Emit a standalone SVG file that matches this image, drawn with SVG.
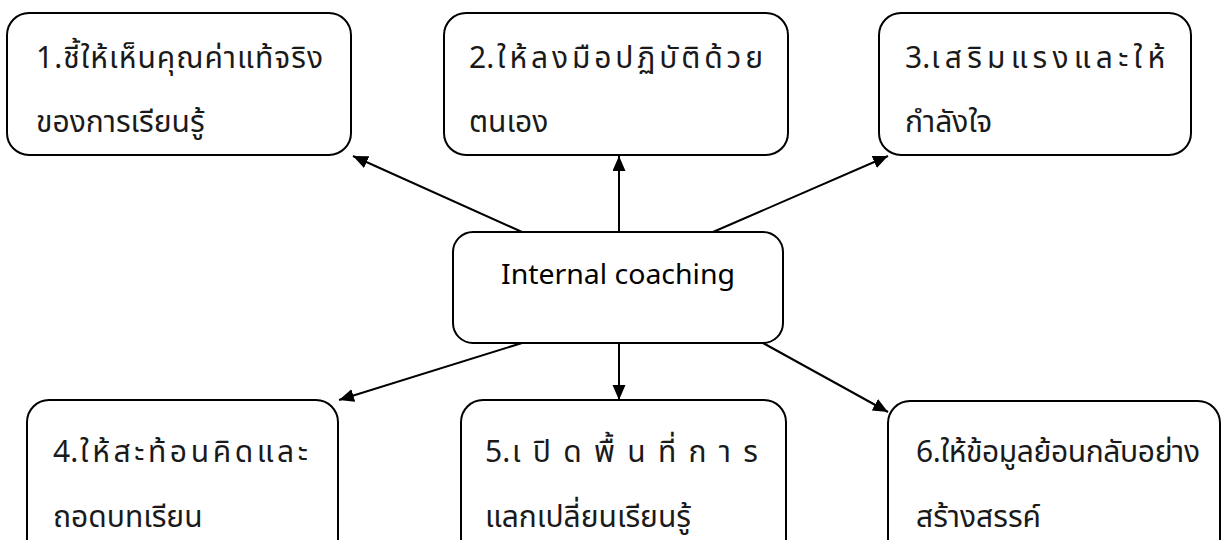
<svg xmlns="http://www.w3.org/2000/svg" width="1230" height="540" viewBox="0 0 1230 540">
<defs>
<style>
.box{fill:#fff;stroke:#000;stroke-width:2}
.th{font-family:"Noto Sans Thai","Noto Sans","DejaVu Sans",sans-serif;font-size:30px;fill:#1a1a1a}
.en{font-family:"Noto Sans","DejaVu Sans",sans-serif;font-size:27px;fill:#000}
.con{stroke:#000;stroke-width:2;fill:none;marker-end:url(#ah)}
</style>
<marker id="ah" markerUnits="userSpaceOnUse" markerWidth="16" markerHeight="14" refX="15" refY="6.5" orient="auto">
<path d="M0,0 L15,6.5 L0,13 z" fill="#000"/>
</marker>
</defs>
<rect width="1230" height="540" fill="#fff"/>
<g id="connectors">
<line class="con" x1="522" y1="232" x2="353" y2="156"/>
<line class="con" x1="619" y1="232" x2="619" y2="156"/>
<line class="con" x1="713" y1="232" x2="888" y2="156"/>
<line class="con" x1="522" y1="343" x2="339" y2="400"/>
<line class="con" x1="619" y1="343" x2="619" y2="400"/>
<line class="con" x1="763" y1="343" x2="888" y2="412"/>
</g>
<g id="node1">
<rect class="box" x="7" y="13" width="344" height="142" rx="22"/>
<text class="th" x="36" y="68" textLength="287" lengthAdjust="spacing">1.ชี้ให้เห็นคุณค่าแท้จริง</text>
<text class="th" x="36" y="132">ของการเรียนรู้</text>
</g>
<g id="node2">
<rect class="box" x="444" y="13" width="344" height="142" rx="22"/>
<text class="th" x="469" y="68">2.</text>
<text class="th" x="497" y="68" textLength="266" lengthAdjust="spacing">ให้ลงมือปฏิบัติด้วย</text>
<text class="th" x="469" y="132">ตนเอง</text>
</g>
<g id="node3">
<rect class="box" x="879" y="13" width="312" height="142" rx="22"/>
<text class="th" x="905" y="68">3.</text>
<text class="th" x="931" y="68" textLength="234" lengthAdjust="spacing">เสริมแรงและให้</text>
<text class="th" x="905" y="132">กำลังใจ</text>
</g>
<g id="center">
<rect class="box" x="453" y="232" width="330" height="111" rx="20"/>
<text class="en" x="501" y="284" textLength="234" lengthAdjust="spacingAndGlyphs">Internal coaching</text>
</g>
<g id="node4">
<rect class="box" x="27" y="400" width="311" height="170" rx="22"/>
<text class="th" x="53" y="462">4.</text>
<text class="th" x="80" y="462" textLength="228" lengthAdjust="spacing">ให้สะท้อนคิดและ</text>
<text class="th" x="53" y="527">ถอดบทเรียน</text>
</g>
<g id="node5">
<rect class="box" x="461" y="400" width="325" height="170" rx="22"/>
<text class="th" x="485" y="462">5.</text>
<text class="th" x="512" y="462" textLength="246" lengthAdjust="spacing">เปิดพื้นที่การ</text>
<text class="th" x="485" y="527">แลกเปลี่ยนเรียนรู้</text>
</g>
<g id="node6">
<rect class="box" x="888" y="401" width="332" height="170" rx="22"/>
<text class="th" x="916" y="462" textLength="284" lengthAdjust="spacing">6.ให้ข้อมูลย้อนกลับอย่าง</text>
<text class="th" x="916" y="527">สร้างสรรค์</text>
</g>
</svg>
